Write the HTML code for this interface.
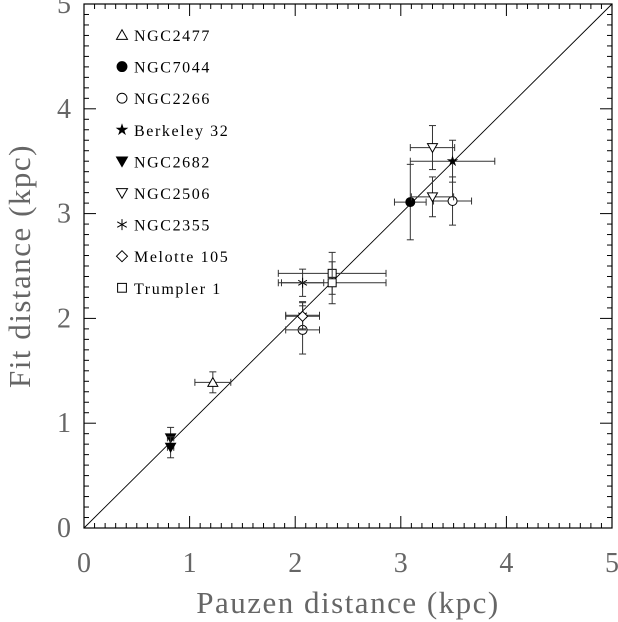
<!DOCTYPE html>
<html><head><meta charset="utf-8"><style>
body{margin:0;background:#fff}
svg{display:block}
text{font-family:"Liberation Serif",serif;}
</style></head><body>
<svg id="chart" width="618" height="622" xmlns="http://www.w3.org/2000/svg">
<g id="axes"></g><g id="marks"></g><g id="legend"></g>
</svg>
<script>
const categories = ["NGC2477","NGC7044","NGC2266","Berkeley 32","NGC2682","NGC2506","NGC2355","Melotte 105","Trumpler 1"];
const symbols = ["tri-open","circle-fill","circle-open","star","tri-down-fill","tri-down-open","asterisk","diamond","square"];
// points: cluster index, pauzen x, fit y, xerr, yerr
const ptCluster = [0,1,2,2,3,4,4,5,5,6,6,7,8,8];
const ptX =       [1.22,3.09,3.49,2.07,3.49,0.82,0.82,3.30,3.30,2.07,2.07,2.07,2.35,2.35];
const ptY =       [1.39,3.11,3.12,1.89,3.50,0.86,0.77,3.63,3.16,2.34,2.03,2.02,2.43,2.34];
const ptXerr =    [0.17,0.15,0.18,0.16,0.40,0.03,0.03,0.21,0.20,0.20,0.16,0.16,0.51,0.51];
const ptYerr =    [0.10,0.36,0.23,0.23,0.20,0.10,0.10,0.21,0.19,0.13,0.13,0.13,0.20,0.20];
const majorTicks = [0,1,2,3,4,5];
const tickLabels = ["0","1","2","3","4","5"];

const NS="http://www.w3.org/2000/svg";
const X0=84,X1=612,Y0=528,Y1=4;
const sx=v=>X0+(X1-X0)*v/5, sy=v=>Y0-(Y0-Y1)*v/5;
function mk(tag,attrs,parent){const e=document.createElementNS(NS,tag);for(const k in attrs)e.setAttribute(k,attrs[k]);parent.appendChild(e);return e;}
const axes=document.getElementById('axes'),marks=document.getElementById('marks'),legend=document.getElementById('legend');

const frame=mk('rect',{x:X0,y:Y1,width:X1-X0,height:Y0-Y1,fill:'none',stroke:'#000','stroke-width':1.2},axes);


const diag=mk('line',{x1:sx(0),y1:sy(0),x2:sx(5),y2:sy(5),stroke:'#000','stroke-width':0.9},axes);


for(let i=0;i<=50;i++){
  const v=i/10, L=(i%10===0)?12:5;
  const xs=sx(v), ys=sy(v);
  mk('line',{x1:xs,y1:Y0,x2:xs,y2:Y0-L,stroke:'#000','stroke-width':1},axes);
  mk('line',{x1:xs,y1:Y1,x2:xs,y2:Y1+L,stroke:'#000','stroke-width':1},axes);
  mk('line',{x1:X0,y1:ys,x2:X0+L,y2:ys,stroke:'#000','stroke-width':1},axes);
  mk('line',{x1:X1,y1:ys,x2:X1-L,y2:ys,stroke:'#000','stroke-width':1},axes);
}
majorTicks.forEach((v,i)=>{
  const t=mk('text',{x:sx(v),y:572,'text-anchor':'middle','font-size':28,fill:'#666'},axes);t.textContent=tickLabels[i];
  
  
  const u=mk('text',{x:64,y:sy(v)+9,'text-anchor':'middle','font-size':28,fill:'#666'},axes);u.textContent=tickLabels[i];
  
  
});
const xt=mk('text',{x:348,y:613,'text-anchor':'middle','font-size':31,fill:'#666','letter-spacing':1.5},axes);xt.textContent='Pauzen distance (kpc)';


const yt=mk('text',{x:0,y:0,'text-anchor':'middle','font-size':31,fill:'#666','letter-spacing':1.5,transform:'translate(30,266) rotate(-90)'},axes);yt.textContent='Fit distance (kpc)';



function drawSym(type,cx,cy,s,parent){
  const st={stroke:'#000','stroke-width':1,fill:'none'};
  let g=mk('g',{},parent);
  if(type==='tri-open'||type==='tri-down-open'||type==='tri-down-fill'){
    const d=type==='tri-open'?1:-1;
    mk('polygon',Object.assign({},st,{points:`${cx-s},${cy+d*s*0.8} ${cx+s},${cy+d*s*0.8} ${cx},${cy-d*s*0.95}`,fill:type==='tri-down-fill'?'#000':'#fff'}),g);
  }else if(type==='circle-fill'||type==='circle-open'){
    mk('circle',Object.assign({},st,{cx,cy,r:s*0.9,fill:type==='circle-fill'?'#000':'#fff'}),g);
  }else if(type==='star'){
    let p=[];for(let k=0;k<10;k++){const r=k%2?s*0.45:s*1.2,a=-Math.PI/2+k*Math.PI/5;p.push((cx+r*Math.cos(a)).toFixed(1)+','+(cy+r*Math.sin(a)).toFixed(1));}
    mk('polygon',{points:p.join(' '),fill:'#000'},g);
  }else if(type==='asterisk'){
    for(let k=0;k<3;k++){const a=k*Math.PI/3+Math.PI/2;mk('line',Object.assign({},st,{x1:cx-s*Math.cos(a),y1:cy-s*Math.sin(a),x2:cx+s*Math.cos(a),y2:cy+s*Math.sin(a)}),g);}
  }else if(type==='diamond'){
    mk('polygon',Object.assign({},st,{points:`${cx},${cy-s} ${cx+s},${cy} ${cx},${cy+s} ${cx-s},${cy}`,fill:'#fff'}),g);
  }else if(type==='square'){
    mk('rect',Object.assign({},st,{x:cx-s*0.8,y:cy-s*0.8,width:s*1.6,height:s*1.6,fill:'#fff'}),g);
  }
  return g;
}
ptX.forEach((xv,i)=>{
  const g=mk('g',{},marks);
  
  
  const cx=sx(xv),cy=sy(ptY[i]);
  const xa=sx(xv-ptXerr[i]),xb=sx(xv+ptXerr[i]),ya=sy(ptY[i]-ptYerr[i]),yb=sy(ptY[i]+ptYerr[i]);
  const es={stroke:'#333','stroke-width':1};
  mk('line',Object.assign({x1:xa,y1:cy,x2:xb,y2:cy},es),g);
  mk('line',Object.assign({x1:xa,y1:cy-3.5,x2:xa,y2:cy+3.5},es),g);
  mk('line',Object.assign({x1:xb,y1:cy-3.5,x2:xb,y2:cy+3.5},es),g);
  mk('line',Object.assign({x1:cx,y1:ya,x2:cx,y2:yb},es),g);
  mk('line',Object.assign({x1:cx-3.5,y1:ya,x2:cx+3.5,y2:ya},es),g);
  mk('line',Object.assign({x1:cx-3.5,y1:yb,x2:cx+3.5,y2:yb},es),g);
  drawSym(symbols[ptCluster[i]],cx,cy,5,g);
});
categories.forEach((c,i)=>{
  const y=35+i*31.6;
  const g=mk('g',{},legend);
  
  
  drawSym(symbols[i],122,y,5.5,g);
  const t=mk('text',{x:134,y:y+6,'font-size':16,'letter-spacing':1.6,fill:'#000'},g);t.textContent=c;
});
</script>
</body></html>
